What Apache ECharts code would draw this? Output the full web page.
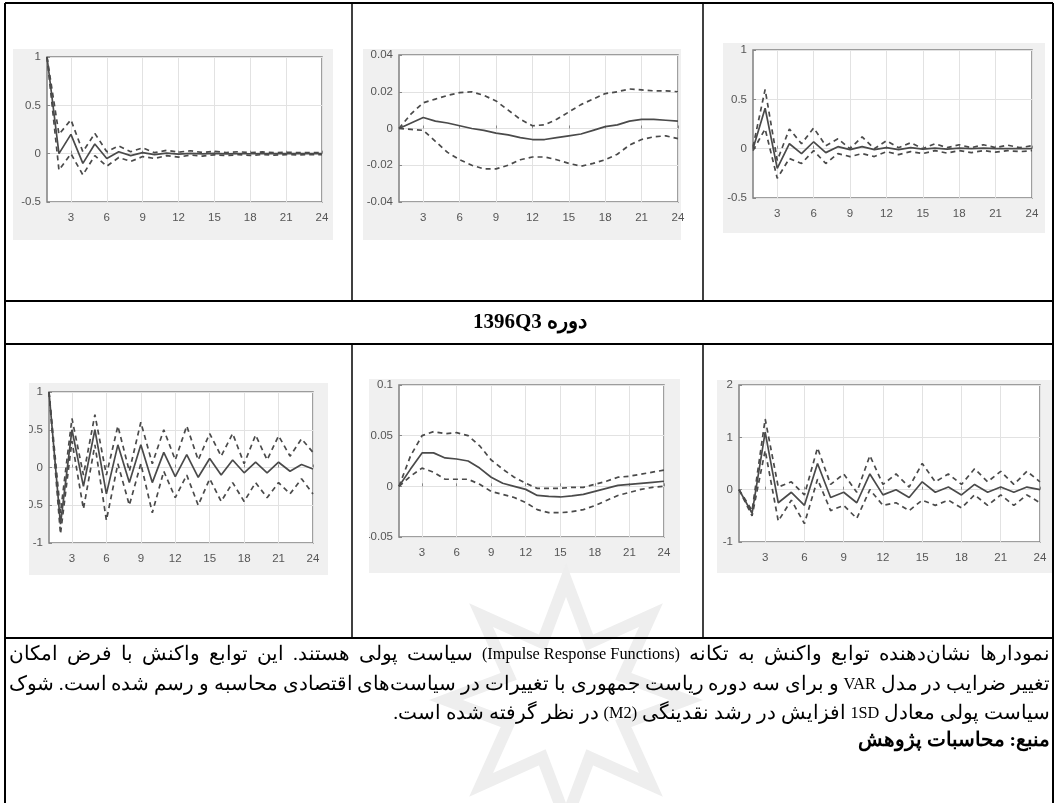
<!DOCTYPE html>
<html>
<head>
<meta charset="utf-8">
<script src="https://cdn.jsdelivr.net/npm/echarts@6/dist/echarts.min.js"></script>
<style>
html,body{margin:0;padding:0;background:#fff;}
#chart{width:1060px;height:803px;}
</style>
</head>
<body>
<div id="chart"></div>
<script>
// ---------- DATA ----------
const periods = ['1','2','3','4','5','6','7','8','9','10','11','12','13','14','15','16','17','18','19','20','21','22','23','24'];

// Row 1, chart 1 (left)
const c1Resp  = [1.0, 0.0, 0.2, -0.1, 0.1, -0.05, 0.02, -0.02, 0.01, -0.01, 0.005, -0.005, 0.003, -0.003, 0.002, -0.002, 0.001, -0.001, 0.001, 0, 0, 0, 0, 0];
const c1Upper = [1.0, 0.2, 0.35, 0.02, 0.21, 0.02, 0.08, 0.02, 0.06, 0.01, 0.035, 0.015, 0.03, 0.012, 0.025, 0.012, 0.02, 0.01, 0.018, 0.01, 0.015, 0.01, 0.012, 0.01];
const c1Lower = [1.0, -0.17, 0.0, -0.22, -0.02, -0.13, -0.04, -0.08, -0.03, -0.05, -0.02, -0.035, -0.015, -0.025, -0.012, -0.02, -0.01, -0.018, -0.01, -0.015, -0.01, -0.012, -0.01, -0.01];

// Row 1, chart 2 (middle)
const c2Resp  = [0, 0.003, 0.006, 0.004, 0.003, 0.0015, 0, -0.001, -0.0025, -0.0035, -0.005, -0.006, -0.006, -0.005, -0.004, -0.003, -0.001, 0.001, 0.002, 0.004, 0.005, 0.005, 0.0045, 0.004];
const c2Upper = [0, 0.008, 0.014, 0.016, 0.018, 0.0195, 0.02, 0.018, 0.015, 0.01, 0.005, 0.0015, 0.002, 0.005, 0.009, 0.013, 0.016, 0.019, 0.02, 0.0215, 0.021, 0.0205, 0.0205, 0.02];
const c2Lower = [0, -0.0005, -0.001, -0.007, -0.013, -0.017, -0.02, -0.022, -0.022, -0.02, -0.017, -0.0155, -0.0155, -0.017, -0.019, -0.0205, -0.019, -0.017, -0.014, -0.009, -0.006, -0.0045, -0.004, -0.0055];

// Row 1, chart 3 (right)
const c3Resp  = [0, 0.41, -0.2, 0.05, -0.05, 0.07, -0.04, 0.02, -0.01, 0.02, -0.01, 0.01, -0.01, 0.01, -0.005, 0.005, -0.005, 0.005, 0, 0.005, 0, 0, 0, 0];
const c3Upper = [0.02, 0.6, -0.12, 0.2, 0.05, 0.21, 0.03, 0.1, 0.0, 0.12, 0.0, 0.08, 0.01, 0.06, 0.0, 0.05, 0.01, 0.04, 0.01, 0.04, 0.01, 0.035, 0.01, 0.03];
const c3Lower = [-0.02, 0.2, -0.3, -0.1, -0.15, -0.02, -0.15, -0.05, -0.08, -0.05, -0.08, -0.03, -0.06, -0.03, -0.05, -0.02, -0.045, -0.02, -0.04, -0.02, -0.035, -0.02, -0.03, -0.02];

// Row 2, chart 4 (left)
const c4Resp  = [1.0, -0.75, 0.5, -0.25, 0.5, -0.35, 0.3, -0.2, 0.3, -0.2, 0.2, -0.12, 0.17, -0.13, 0.12, -0.1, 0.1, -0.07, 0.07, -0.07, 0.07, -0.05, 0.04, -0.02];
const c4Upper = [1.0, -0.6, 0.65, -0.1, 0.7, -0.1, 0.55, -0.05, 0.6, 0.05, 0.5, 0.1, 0.55, 0.1, 0.45, 0.15, 0.45, 0.05, 0.43, 0.1, 0.42, 0.15, 0.38, 0.2];
const c4Lower = [1.0, -0.88, 0.35, -0.55, 0.3, -0.7, 0.05, -0.5, 0.05, -0.6, -0.05, -0.4, -0.1, -0.5, -0.15, -0.45, -0.2, -0.45, -0.2, -0.4, -0.2, -0.35, -0.15, -0.35];

// Row 2, chart 5 (middle)
const c5Resp  = [0, 0.017, 0.033, 0.033, 0.028, 0.027, 0.025, 0.018, 0.009, 0.003, 0.0, -0.003, -0.009, -0.01, -0.0105, -0.0095, -0.008, -0.005, -0.002, 0.001, 0.002, 0.003, 0.004, 0.005];
const c5Upper = [0, 0.03, 0.05, 0.054, 0.052, 0.053, 0.05, 0.04, 0.026, 0.017, 0.009, 0.003, -0.002, -0.002, -0.002, -0.001, -0.001, 0.002, 0.005, 0.009, 0.01, 0.012, 0.014, 0.016];
const c5Lower = [0, 0.01, 0.018, 0.014, 0.007, 0.007, 0.007, 0.002, -0.005, -0.008, -0.011, -0.016, -0.023, -0.026, -0.026, -0.025, -0.023, -0.019, -0.014, -0.009, -0.006, -0.003, -0.001, 0.0];

// Row 2, chart 6 (right)
const c6Resp  = [0, -0.45, 1.1, -0.25, -0.05, -0.3, 0.5, -0.15, -0.05, -0.25, 0.3, -0.1, 0.0, -0.15, 0.15, -0.05, 0.05, -0.1, 0.1, -0.05, 0.05, -0.05, 0.05, 0.0];
const c6Upper = [0, -0.4, 1.35, 0.05, 0.15, -0.1, 0.8, 0.1, 0.3, -0.05, 0.65, 0.1, 0.3, 0.05, 0.5, 0.15, 0.3, 0.1, 0.4, 0.15, 0.35, 0.1, 0.35, 0.15];
const c6Lower = [0, -0.5, 0.75, -0.6, -0.2, -0.65, 0.2, -0.4, -0.3, -0.55, 0.0, -0.3, -0.25, -0.4, -0.2, -0.3, -0.2, -0.35, -0.1, -0.3, -0.1, -0.3, -0.1, -0.25];

// y-axis ranges per chart
const yMins = [-0.5, -0.04, -0.5, -1, -0.05, -1];
const yMaxs = [1, 0.04, 1, 1, 0.1, 2];
const yIntervals = [0.5, 0.02, 0.5, 0.5, 0.05, 1];

// texts
const headingText = 'دوره 1396Q3';
const noteLine1 = ['نمودارها','نشان‌دهنده','توابع','واکنش','به','تکانه','(Impulse Response Functions)','سیاست','پولی','هستند.','این','توابع','واکنش','با','فرض','امکان'];
const noteLine2 = ['تغییر','ضرایب','در','مدل','VAR','و','برای','سه','دوره','ریاست','جمهوری','با','تغییرات','در','سیاست‌های','اقتصادی','محاسبه','و','رسم','شده','است.','شوک'];
const noteLine3 = ['سیاست','پولی','معادل','1SD','افزایش','در','رشد','نقدینگی','(M2)','در','نظر','گرفته','شده','است.'];
const sourceText = 'منبع: محاسبات پژوهش';

// ---------- LAYOUT ----------
const allSeries = [
  [c1Resp, c1Upper, c1Lower],
  [c2Resp, c2Upper, c2Lower],
  [c3Resp, c3Upper, c3Lower],
  [c4Resp, c4Upper, c4Lower],
  [c5Resp, c5Upper, c5Lower],
  [c6Resp, c6Upper, c6Lower]
];
const plots = [
  [47, 57, 322, 202],
  [399, 55, 678, 202],
  [753, 50, 1032, 198],
  [49, 392, 313, 543],
  [399, 385, 664, 537],
  [739, 385, 1040, 542]
];
const figBg = [
  [13, 49, 333, 240],
  [363, 49, 681, 240],
  [723, 43, 1045, 233],
  [29, 383, 328, 575],
  [369, 379, 680, 573],
  [717, 380, 1052, 573]
];

const every3 = (idx) => (idx + 1) % 3 === 0;
const lineColor = '#4a4a4a';
const labelColor = '#555';

const grids = [], xAxes = [], yAxes = [], series = [];
plots.forEach((p, i) => {
  grids.push({
    left: p[0], top: p[1], width: p[2] - p[0], height: p[3] - p[1],
    show: true, backgroundColor: '#ffffff', borderColor: '#808080', borderWidth: 1.5,
    containLabel: false, outerBoundsMode: 'none'
  });
  xAxes.push({
    gridIndex: i, type: 'category', data: periods, boundaryGap: false,
    axisLine: { show: false },
    axisTick: { show: true, inside: true, length: 3, interval: every3, lineStyle: { color: '#888' } },
    axisLabel: { interval: every3, color: labelColor, fontSize: 11.5, fontFamily: 'Liberation Sans, Arial', margin: 10 },
    splitLine: { show: true, interval: every3, lineStyle: { color: '#e2e2e2', width: 1 } }
  });
  yAxes.push({
    gridIndex: i, type: 'value', min: yMins[i], max: yMaxs[i], interval: yIntervals[i],
    axisLine: { show: false },
    axisTick: { show: true, inside: true, length: 3, lineStyle: { color: '#888' } },
    axisLabel: { color: labelColor, fontSize: 11.5, fontFamily: 'Liberation Sans, Arial', margin: 6 },
    splitLine: { show: true, lineStyle: { color: '#e2e2e2', width: 1 } }
  });
  const [resp, up, lo] = allSeries[i];
  [[up, [5, 4]], [lo, [5, 4]], [resp, 'solid']].forEach(([d, t]) => {
    series.push({
      type: 'line', xAxisIndex: i, yAxisIndex: i, data: d,
      showSymbol: false, symbol: 'none', silent: true, animation: false,
      lineStyle: { color: lineColor, width: 1.7, type: t }
    });
  });
});

// ---------- GRAPHICS: table, texts ----------
const graphics = [];
figBg.forEach(b => {
  graphics.push({ type: 'rect', z: -10, shape: { x: b[0], y: b[1], width: b[2] - b[0], height: b[3] - b[1] }, style: { fill: '#f0f0f0' } });
});
graphics.push({ type: 'rect', z: 40, shape: { x: 7, y: 383, width: 22, height: 192 }, style: { fill: '#fff' } });
graphics.push({ type: 'rect', z: 40, shape: { x: 354, y: 379, width: 15, height: 194 }, style: { fill: '#fff' } });

// watermark (faint ornament)
(function () {
  const cx = 566, cy = 700, R = 120, r = 62, pts = [];
  for (let k = 0; k < 16; k++) {
    const a = -Math.PI / 2 + k * Math.PI / 8;
    const rr = k % 2 === 0 ? R : r;
    pts.push([cx + rr * Math.cos(a), cy + rr * Math.sin(a)]);
  }
  graphics.push({ type: 'polygon', z: 30, shape: { points: pts }, style: { fill: 'none', stroke: '#eeeeee', lineWidth: 12 } });
})();

// table lines
const L = 5, R = 1053, T = 3;
const hl = (y, w) => graphics.push({ type: 'line', z: 60, shape: { x1: L, y1: y, x2: R, y2: y }, style: { stroke: '#000', lineWidth: w } });
const vl = (x, y1, y2, w) => graphics.push({ type: 'line', z: 60, shape: { x1: x, y1: y1, x2: x, y2: y2 }, style: { stroke: '#000', lineWidth: w } });
hl(T, 2); hl(301, 2); hl(344, 2); hl(638, 2);
vl(L, T, 803, 2); vl(R, T, 803, 2);
vl(352, T, 301, 1.5); vl(703, T, 301, 1.5);
vl(352, 344, 638, 1.5); vl(703, 344, 638, 1.5);

const rtl = s => '\u202B' + s + '\u202C';
const isLatin = s => /^[\x20-\x7E]+$/.test(s);

graphics.push({ type: 'text', z: 60, x: 530, y: 323,
  style: { text: rtl(headingText), font: 'bold 21px "Liberation Serif", serif', fill: '#000', align: 'center', verticalAlign: 'middle' } });

// RTL lines built from word segments
const mctx = document.createElement('canvas').getContext('2d');
const measure = (t, f) => { mctx.font = f; return mctx.measureText(t).width; };
const textRight = 1050, textLeft = 9;
const latinFont = '16.3px "Liberation Serif", serif';
let pfs = 22;
const pFont = s => s + 'px "Liberation Serif", serif';
const segFont = (w, pf) => isLatin(w) ? latinFont : pf;
const segText = w => isLatin(w) ? w : rtl(w);
const natural = (words, pf) => words.reduce((a, w) => a + measure(segText(w), segFont(w, pf)), 0);
const line3Target = 657;
while (pfs > 12 && natural(noteLine3, pFont(pfs)) + measure(' ', pFont(pfs)) * (noteLine3.length - 1) > line3Target) pfs -= 0.25;
const persianFont = pFont(pfs);
function layLine(words, y, gap, weight) {
  let x = textRight;
  words.forEach(w => {
    const f = segFont(w, persianFont);
    const t = segText(w);
    graphics.push({ type: 'text', z: 60, x: x, y: y, style: { text: t, font: (weight ? weight + ' ' : '') + f, fill: '#000', align: 'right', verticalAlign: 'middle' } });
    x -= measure(t, (weight ? weight + ' ' : '') + f) + gap;
  });
}
function justify(words, y) {
  const tw = natural(words, persianFont);
  const gap = Math.max(3, (textRight - textLeft - tw) / (words.length - 1));
  layLine(words, y, gap);
}
justify(noteLine1, 655);
justify(noteLine2, 685);
layLine(noteLine3, 714, measure(' ', persianFont));
graphics.push({ type: 'text', z: 60, x: textRight, y: 741, style: { text: rtl(sourceText), font: 'bold ' + persianFont, fill: '#000', align: 'right', verticalAlign: 'middle' } });

const chart = echarts.init(document.getElementById('chart'), null, { renderer: 'canvas' });
chart.setOption({
  animation: false,
  backgroundColor: '#ffffff',
  grid: grids,
  xAxis: xAxes,
  yAxis: yAxes,
  series: series,
  graphic: { elements: graphics }
});
</script>
</body>
</html>
